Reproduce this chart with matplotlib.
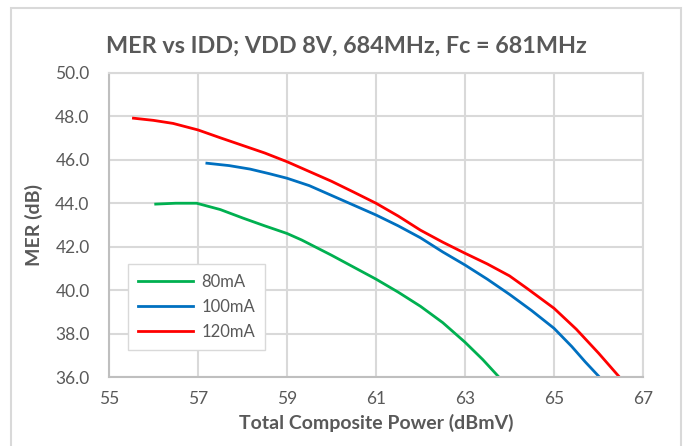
import matplotlib.pyplot as plt
from matplotlib.patches import Rectangle

# values
x_80 = [56.05, 56.5, 56.97, 57.5, 58.02, 58.5, 59.0, 59.33, 60.0, 60.5, 61.0, 61.5, 62.0, 62.5, 63.0, 63.4, 63.76]
mer_80 = [43.95, 43.99, 43.99, 43.7, 43.3, 42.95, 42.6, 42.3, 41.6, 41.05, 40.5, 39.9, 39.25, 38.5, 37.6, 36.8, 36.0]

x_100 = [57.2, 57.7, 58.17, 58.6, 59.0, 59.5, 60.0, 60.5, 61.0, 61.5, 62.0, 62.5, 63.0, 63.5, 64.0, 64.5, 65.0, 65.4, 65.7, 66.02]
mer_100 = [45.83, 45.72, 45.56, 45.35, 45.14, 44.8, 44.35, 43.9, 43.45, 42.95, 42.4, 41.75, 41.15, 40.5, 39.8, 39.05, 38.24, 37.4, 36.7, 36.0]

x_120 = [55.55, 56.0, 56.44, 57.0, 57.5, 58.0, 58.5, 59.0, 59.5, 60.0, 60.5, 61.0, 61.5, 62.0, 62.5, 63.0, 63.5, 64.0, 64.39, 65.0, 65.5, 66.0, 66.47]
mer_120 = [47.9, 47.8, 47.66, 47.36, 47.0, 46.65, 46.3, 45.9, 45.45, 45.0, 44.5, 43.99, 43.4, 42.75, 42.2, 41.69, 41.2, 40.65, 40.08, 39.16, 38.2, 37.1, 36.0]

x_ticks = [55, 57, 59, 61, 63, 65, 67]
y_ticks = [36, 38, 40, 42, 44, 46, 48, 50]

txt = "#595959"
grid = "#d9d9d9"
plt.rcParams['font.family'] = ['Lato', 'DejaVu Sans']

fig = plt.figure(figsize=(6.88, 4.46), dpi=100)
ax = fig.add_axes([0.1584, 0.1547, 0.9346 - 0.1584, 0.8374 - 0.1547])

ax.plot(x_80, mer_80, color="#00b050", lw=2, label="80mA")
ax.plot(x_100, mer_100, color="#0070c0", lw=2, label="100mA")
ax.plot(x_120, mer_120, color="#ff0000", lw=2, label="120mA")

ax.set_xlim(55, 67)
ax.set_ylim(36, 50)
ax.set_xticks(x_ticks)
ax.set_yticks(y_ticks)
ax.set_yticklabels(["%.1f" % v for v in y_ticks])
ax.tick_params(length=0, labelsize=12.5, colors=txt, pad=10)
ax.tick_params(axis="y", pad=14)
ax.grid(True, color=grid, lw=1.5)
ax.set_axisbelow(True)
for s in ax.spines.values():
    s.set_color(grid)
    s.set_linewidth(1.5)
ax.spines["left"].set_color("#bfbfbf")
ax.spines["bottom"].set_color("#bfbfbf")

# title is centred on the whole chart area, not the plot
fig.text(346 / 688, 1 - 46 / 446, "MER vs IDD; VDD 8V, 684MHz, Fc = 681MHz", fontsize=16.8,
         fontweight="bold", color=txt, ha="center", va="center")
ax.set_xlabel("Total Composite Power (dBmV)", fontsize=14, fontweight="bold", color=txt, labelpad=5)
ax.set_ylabel("MER (dB)", fontsize=14, fontweight="bold", color=txt, labelpad=9)

leg = ax.legend(loc="lower left", bbox_to_anchor=(0.036, 0.089), fontsize=12, fancybox=False,
                framealpha=1, edgecolor=grid, handlelength=3.3, handletextpad=0.5, borderpad=0.6,
                labelspacing=0.55, borderaxespad=0)
for t in leg.get_texts():
    t.set_color(txt)

fig.patches.append(Rectangle((11 / 688, -0.01), 670 / 688, 1 - 8 / 446 + 0.01, transform=fig.transFigure,
                             fill=False, edgecolor=grid, lw=1.5))

fig.savefig("out.png", dpi=100)
